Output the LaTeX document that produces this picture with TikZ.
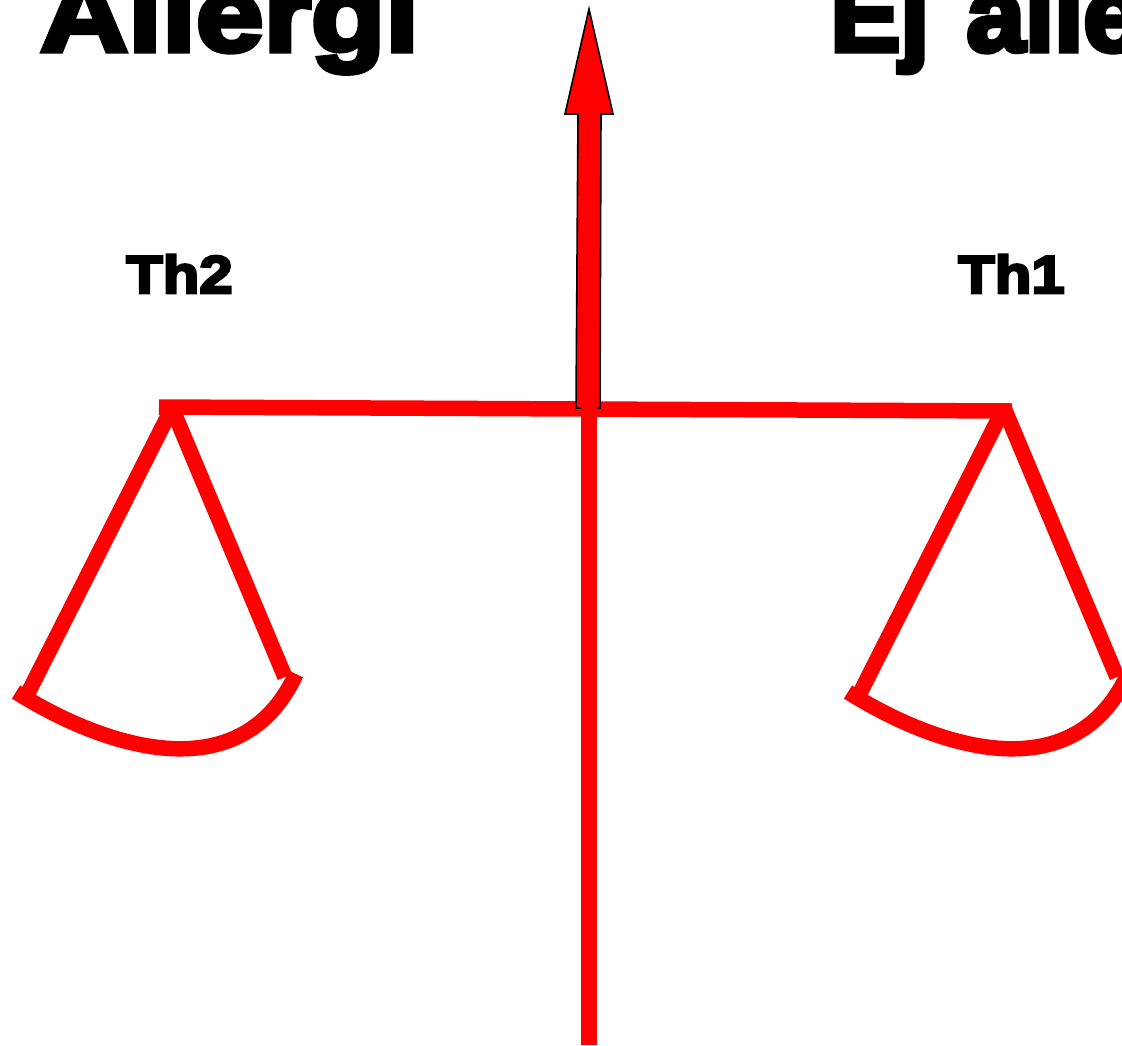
\documentclass[tikz,border=0pt]{standalone}
\usepackage{fontspec}
\setmainfont{Liberation Sans}
\newfontfamily\heavyfont[FakeBold=5,FakeStretch=1.13]{Liberation Sans Bold}
\newfontfamily\heavywide[FakeBold=5,FakeStretch=1.16]{Liberation Sans Bold}
\newfontfamily\heavynarrow[FakeBold=5,FakeStretch=1.0]{Liberation Sans Bold}
\begin{document}
\begin{tikzpicture}[x=1pt,y=-1pt,
  scaleline/.style={draw=red,line width=15.5pt},
  bigtitle/.style={font=\heavywide\fontsize{105}{105}\selectfont,anchor=base west,inner sep=0pt},
  bigtitleb/.style={font=\heavynarrow\fontsize{105}{105}\selectfont,anchor=base west,inner sep=0pt},
  smalltitle/.style={font=\heavyfont\fontsize{53}{53}\selectfont,anchor=base west,inner sep=0pt},
  needle/.style={draw=black,fill=red,line width=1.6pt,line join=miter}]
\useasboundingbox (0,0) rectangle (1122,1045);
\clip (0,0) rectangle (1122,1045);
\coordinate (beamL) at (159,407);
\coordinate (beamR) at (1012,411);
\coordinate (pivotL) at (172,408);
\coordinate (pivotR) at (1004,408);
\coordinate (armLa) at (27,695);
\coordinate (armLb) at (285,677);
\coordinate (armRa) at (859,695);
\coordinate (armRb) at (1117,677);
\coordinate (panLa) at (16,692);
\coordinate (panLb) at (296,674);
\coordinate (panRa) at (848,692);
\coordinate (panRb) at (1128,674);
\coordinate (poleTop) at (589,403);
\coordinate (poleBot) at (589,1045);
\node[bigtitle] (allergi) at (40,51) {Allergi};
\node[bigtitleb] (ejallergi) at (830,51) {Ej\hspace{8pt} allergi};
\node[smalltitle] (th2) at (126,293) {Th2};
\node[smalltitle] (th1) at (958,293) {Th1};
\draw[scaleline] (beamL) -- (beamR);
\draw[needle] (589,9) -- (613,114) -- (601,114) -- (600,408) -- (576,408) -- (578,114) -- (565,114) -- cycle;
\draw[scaleline,line width=16pt] (poleTop) -- (poleBot);
\draw[scaleline] (pivotL) -- (armLa);
\draw[scaleline] (pivotL) -- (armLb);
\draw[scaleline] (pivotR) -- (armRa);
\draw[scaleline] (pivotR) -- (armRb);
\draw[scaleline] (panLa) .. controls (100,745) and (240,795) .. (panLb);
\draw[scaleline] (panRa) .. controls (932,745) and (1072,795) .. (panRb);
\end{tikzpicture}
\end{document}
